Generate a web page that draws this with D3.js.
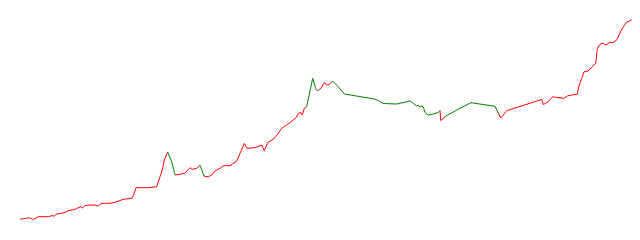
<!DOCTYPE html>
<html><head><meta charset="utf-8">
<script src="https://cdn.jsdelivr.net/npm/d3@7"></script>
<style>html,body{margin:0;padding:0;background:#fff;}</style>
</head><body>
<svg id="chart" width="640" height="240"></svg>
<script>
const xs = [0,6.7,8.3,10.7,12.7,15,18.3,28.3,31.7,34.3,36.7,41.7,45,48.3,53.3,56.7,59,60.7,62.3,65,70,75,77.7,81,84.3,90,96,103.3,111.7,113.3,116,128.3,136.7,140,142.3,144.3,147.7,151.7,155,160,165,167.7,170,172.3,176.7,180,184,186,188.3,191.7,195,200,203.3,210,216.7,220,224.3,227.3,235,241.7,244.3,247.7,253.3,257.7,261.7,270,276.7,278.3,281,282.3,284.3,286.7,292.7,296,297.7,301,304.3,306.7,309.3,312.7,318.3,324.3,354.3,358.3,363.3,376.7,390,393.3,396.7,398.3,400,401.7,403.3,405,408.3,413.3,418.3,420,420.7,426,440,451,475,478.3,480.7,483.3,486.7,520,521.7,523.3,525.5,528.3,532.7,537,544,547.3,551.7,557.3,558.7,561.7,564.2,568.3,571.7,575.8,577.3,580,583.3,586,589.2,593.3,597,599.7,603.3,607,611.5];
const values = [0.7,1.7,2.3,1.7,0.7,1.3,3.3,3.3,4.3,4,6,6.7,7.7,9.3,10.3,11.3,12.7,13.3,12,14.3,15,15,14,16.3,16.7,16.7,18,20.7,21.7,24.5,32.3,32.3,33.3,43.3,50,60,68,58.3,45,45.7,46.7,50,52.3,50.7,51.7,54.7,44,43.3,43.3,45,49,51.7,54.3,54.3,59,66.5,76.5,71.7,72.3,75,69.3,77.5,80.7,85.7,91.7,97.3,103,106.7,107.3,105,111.7,113.3,141.7,130.5,129.3,131.7,137.5,135,135.5,139,133.3,126,121,119.3,116.5,116,119,116.7,114,115,113,114,113,107.5,104.8,106,107.5,109.5,99.5,104,111.7,117.3,113.7,107,102,105,109.3,120,120.7,115.5,116.7,118.3,123.3,122.5,121.7,124,125,125.7,133,141.7,148.3,149,153,156.7,171.7,175.8,176.7,174.7,177.3,177.7,180.3,186.7,193.3,198,200];
const greenSpans = [[147.7,155],[180,184],[286.7,297.7],[312.7,420],[426,478.3]];
const colors = {up:"#ff0000", down:"#008000"};

const svg = d3.select("#chart");
const x = d3.scaleLinear().domain([0,612]).range([20,632]);
const y = d3.scaleLinear().domain([0,200]).range([220,20]);
const pts = xs.map((d,i)=>({x:d, v:values[i]}));
const isGreen = m => greenSpans.some(([a,b]) => m>=a && m<=b);

// group into runs of same color
const runs = [];
for (let i=0;i<pts.length-1;i++){
  const mid = (pts[i].x+pts[i+1].x)/2;
  const c = isGreen(mid) ? "down" : "up";
  const last = runs[runs.length-1];
  if (last && last.c===c) last.pts.push(pts[i+1]);
  else runs.push({c, pts:[pts[i],pts[i+1]]});
}
const line = d3.line().x(d=>x(d.x)).y(d=>y(d.v));
svg.selectAll("path.seg").data(runs).join("path")
  .attr("class","seg")
  .attr("fill","none")
  .attr("stroke",d=>colors[d.c])
  .attr("stroke-width",1)
  .attr("d",d=>line(d.pts));
</script>
</body></html>
